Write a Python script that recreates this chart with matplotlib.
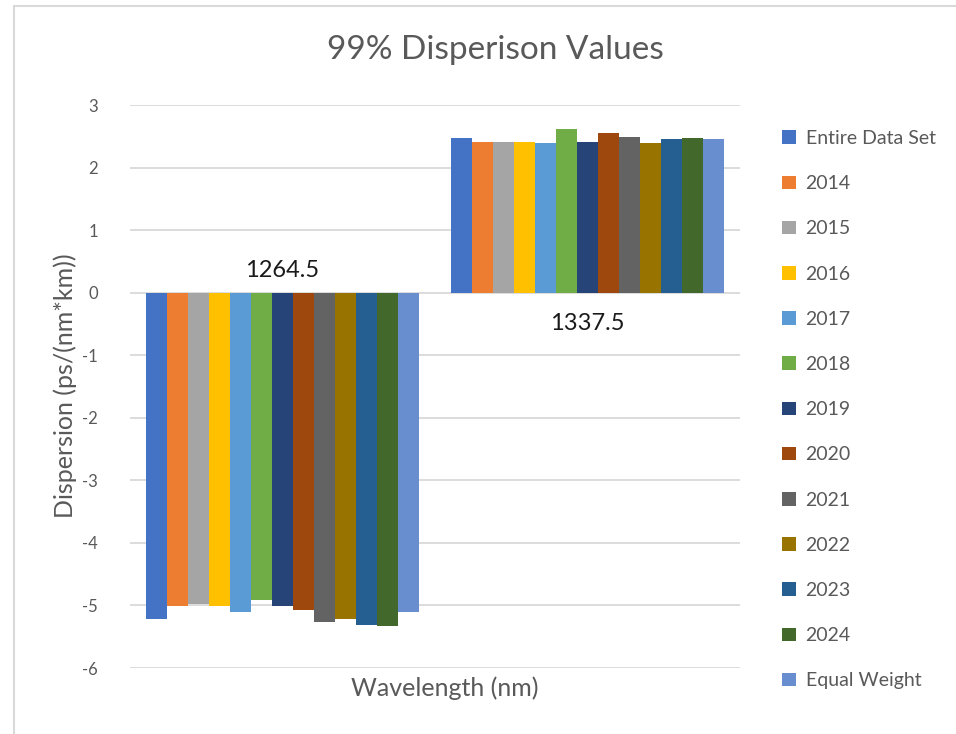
import matplotlib.pyplot as plt
import numpy as np
from matplotlib.patches import Patch, Rectangle

plt.rcParams["font.family"] = ["Lato", "DejaVu Sans"]

# -------------------------
# Data
# -------------------------
wavelengths = ["1264.5", "1337.5"]
series_names = ["Entire Data Set", "2014", "2015", "2016", "2017", "2018", "2019",
                "2020", "2021", "2022", "2023", "2024", "Equal Weight"]
disp_1264 = [-5.22, -5.01, -4.97, -5.01, -5.11, -4.91, -5.01,
             -5.07, -5.27, -5.21, -5.31, -5.33, -5.11]
disp_1337 = [2.47, 2.41, 2.41, 2.41, 2.39, 2.61, 2.41,
             2.56, 2.49, 2.39, 2.45, 2.47, 2.45]
colors = ["#4472C4", "#ED7D31", "#A5A5A5", "#FFC000", "#5B9BD5", "#70AD47", "#264478",
          "#9E480E", "#636363", "#997300", "#255E91", "#43682B", "#698ED0"]
yticks = list(range(-6, 4))

text_gray = "#595959"
grid_gray = "#D9D9D9"

fig = plt.figure(figsize=(9.56, 7.34), dpi=100)
ax = fig.add_axes([0.136, 0.0899, 0.638, 0.767])

n = len(series_names)
group_width = 0.893
bar_w = group_width / n
x = np.arange(len(wavelengths))

for i, name in enumerate(series_names):
    vals = [disp_1264[i], disp_1337[i]]
    offset = -group_width / 2 + bar_w * (i + 0.5)
    ax.bar(x + offset, vals, width=bar_w, color=colors[i], label=name,
           zorder=3, linewidth=0)

ax.set_xlim(-0.5, 1.5)
ax.set_ylim(-6, 3)
ax.set_yticks(yticks)
ax.set_yticklabels([str(t) for t in yticks])
ax.set_xticks([])
ax.grid(axis="y", color=grid_gray, linewidth=1.3, zorder=0)
for s in ax.spines.values():
    s.set_visible(False)
ax.tick_params(axis="y", length=0, pad=23, labelsize=12, labelcolor=text_gray)

# category labels sit beside the zero line, Excel style
ax.text(0, 0.35, wavelengths[0], ha="center", va="center", fontsize=17, color="#1a1a1a")
ax.text(1, -0.49, wavelengths[1], ha="center", va="center", fontsize=17, color="#1a1a1a")

fig.text(65 / 956, 1 - 386 / 734, "Dispersion (ps/(nm*km))", ha="center", va="center",
         rotation=90, fontsize=18, color=text_gray)
fig.text(0.465, 1 - 688 / 734, "Wavelength (nm)", ha="center", va="center",
         fontsize=18, color=text_gray)
fig.text(0.518, 1 - 50 / 734, "99% Disperison Values", ha="center", va="center",
         fontsize=24, color=text_gray)

handles = [Patch(facecolor=c, edgecolor="none") for c in colors]
fig.legend(handles, series_names, loc="upper left", bbox_to_anchor=(0.808, 0.836),
           frameon=False, fontsize=14, labelcolor=text_gray, labelspacing=1.45,
           handlelength=0.7, handleheight=0.7, handletextpad=0.5, borderpad=0)

# chart area border
fig.add_artist(Rectangle((14 / 956, -0.1), 1.2, 1.1 - 6 / 734,
                         transform=fig.transFigure, fill=False,
                         edgecolor="#D9D9D9", linewidth=1.5))

fig.savefig("out.png", dpi=100)
